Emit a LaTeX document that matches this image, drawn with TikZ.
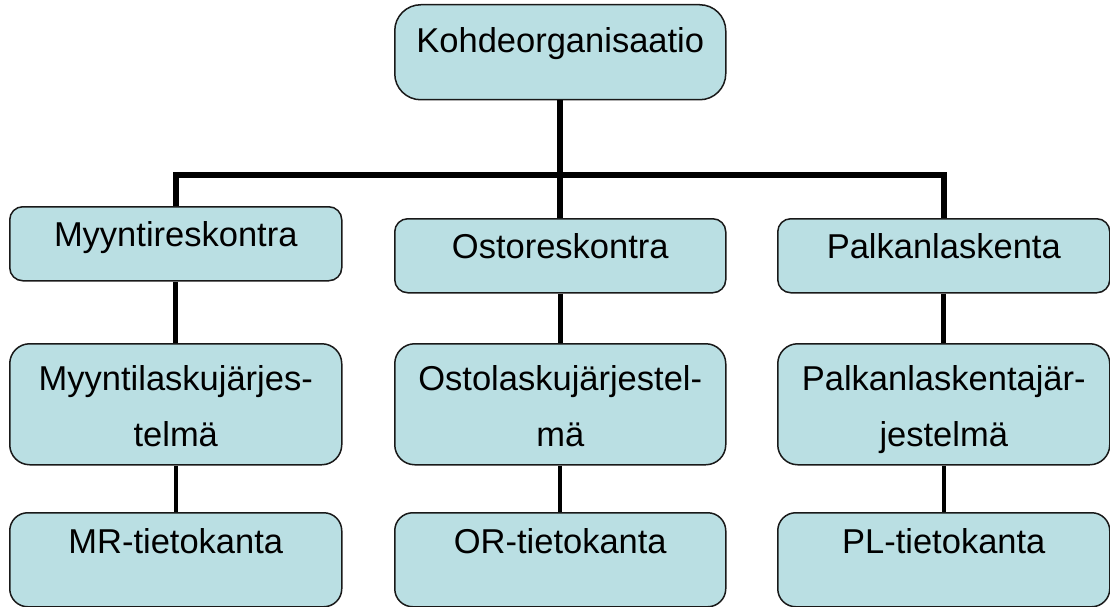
\documentclass[tikz,border=0pt]{standalone}
\usepackage{fontspec}
\setmainfont{Liberation Sans}
\usetikzlibrary{positioning}
\definecolor{boxfill}{RGB}{186,223,227}
\begin{document}
\begin{tikzpicture}[x = 1pt, y = -1pt,
orgbox/.style = {draw = black!90, fill = boxfill, line width = 1.5pt, anchor = north west,
  inner xsep = 4pt, inner ysep = 0pt, align = center, minimum width = 332pt,
  font = \fontsize{34.5}{56}\selectfont},
link/.style = {line width = #1}]
\useasboundingbox (0,0) rectangle (1110,607);
% ylin taso
\node [orgbox, minimum width = 331pt, text height = 48pt, text depth = 47pt, rounded corners = 26pt] (kohde) at (394,4) {Kohdeorganisaatio};
% reskontrat
\node [orgbox, text height = 39.5pt, text depth = 34.5pt, rounded corners = 13pt] (myynti) at (9,206) {Myyntireskontra};
\node [orgbox, minimum width = 331pt, text height = 39.5pt, text depth = 34.5pt, rounded corners = 13pt] (osto) at (394,218) {Ostoreskontra};
\node [orgbox, text height = 39.5pt, text depth = 34.5pt, rounded corners = 13pt] (palkka) at (777,218) {Palkanlaskenta};
% jarjestelmat
\node [orgbox, text height = 102.5pt, text depth = 18.5pt, rounded corners = 20pt] (myyntijarj) at (9,343) {Myyntilaskujärjes-\\telmä};
\node [orgbox, minimum width = 331pt, text height = 102.5pt, text depth = 18.5pt, rounded corners = 20pt] (ostojarj) at (394,343) {Ostolaskujärjestel-\\mä};
\node [orgbox, text height = 102.5pt, text depth = 18.5pt, rounded corners = 20pt] (palkkajarj) at (777,343) {Palkanlaskentajär-\\jestelmä};
% tietokannat
\node [orgbox, text height = 40.5pt, text depth = 53.5pt, rounded corners = 18pt] (myyntikanta) at (9,512) {MR-tietokanta};
\node [orgbox, minimum width = 331pt, text height = 40.5pt, text depth = 53.5pt, rounded corners = 18pt] (ostokanta) at (394,512) {OR-tietokanta};
\node [orgbox, text height = 40.5pt, text depth = 53.5pt, rounded corners = 18pt] (palkkakanta) at (777,512) {PL-tietokanta};

\coordinate (haara) at (kohde.south |- 0,175);
\draw [link = 6pt] (kohde.south) -- (osto.north);
\draw [link = 6pt] (myynti.north) |- (haara) -| (palkka.north);

\draw [link = 5pt] (myynti.south) -- (myyntijarj.north);
\draw [link = 5pt] (osto.south) -- (ostojarj.north);
\draw [link = 5pt] (palkka.south) -- (palkkajarj.north);

\draw [link = 4pt] (myyntijarj.south) -- (myyntikanta.north);
\draw [link = 4pt] (ostojarj.south) -- (ostokanta.north);
\draw [link = 4pt] (palkkajarj.south) -- (palkkakanta.north);
\end{tikzpicture}
\end{document}
